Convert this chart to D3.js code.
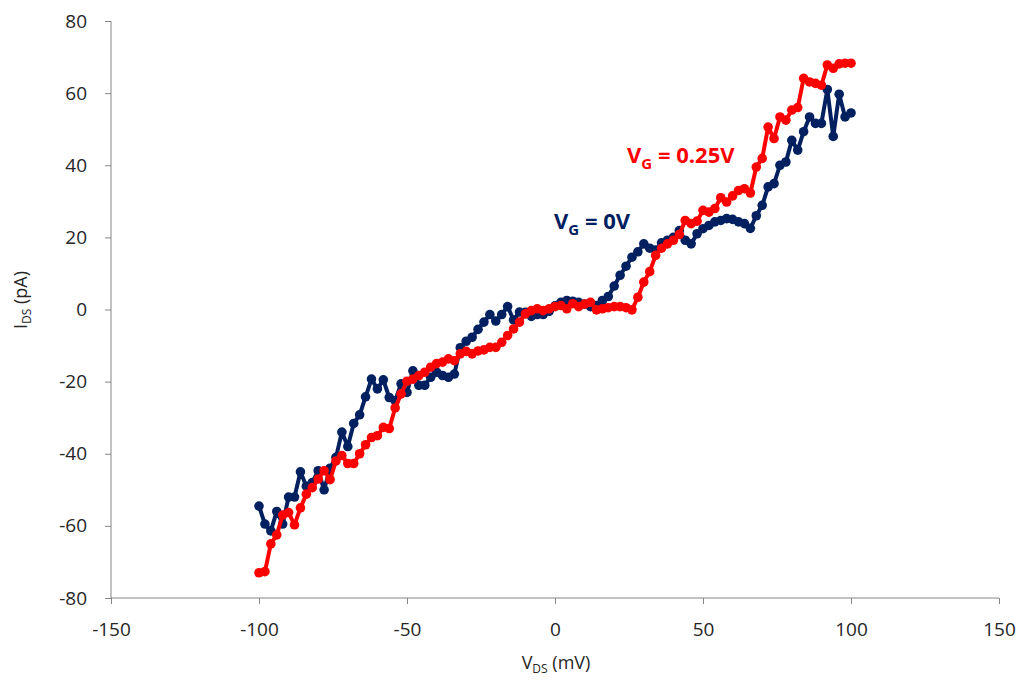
<!DOCTYPE html>
<html>
<head>
<meta charset="utf-8">
<script src="https://cdn.jsdelivr.net/npm/d3@7"></script>
<style>
  body { margin: 0; background: #fff; }
  text { font-family: "Open Sans", "DejaVu Sans", sans-serif; }
</style>
</head>
<body>
<svg width="1022" height="683"></svg>
<script>
// V_DS values (mV), 2 mV steps
const vds = d3.range(-100, 101, 2);

// I_DS (pA) for V_G = 0V
const blueI = [
  -54.5, -59.5, -61.4, -56, -59.5, -52, -52, -45, -49, -48,
  -44.7, -50, -44, -41, -34, -38, -31.6, -29.2, -24.2, -19.3,
  -22, -19.5, -24.4, -25.3, -20.6, -23, -17, -21, -21, -18.8,
  -17.4, -18.3, -18.8, -17.9, -10.6, -8.8, -7.7, -5.5, -3.5, -1.4,
  -3.2, -1.4, 0.8, -2.9, -0.7, -0.8, -1.9, -1.4, -1.4, -0.5,
  1, 2, 2.5, 2.3, 2, 1.5, 0.8, 1.1, 2.5, 3.6,
  6.5, 9.5, 12, 14.5, 16, 18.2, 17, 16.5, 18.5, 19.2,
  20, 21.9, 19.2, 18.2, 21, 22.4, 23.3, 24.3, 24.7, 25.2,
  25, 24.3, 23.8, 22.5, 26, 28.9, 34, 34.9, 40, 40.9,
  46.9, 44.2, 49.3, 53.4, 51.6, 51.6, 61, 48, 59.7, 53.4,
  54.5
];

// I_DS (pA) for V_G = 0.25V
const redI = [
  -73, -72.7, -65, -62.5, -57, -56.3, -59.7, -55, -51.2, -49.4,
  -47, -44.7, -47.2, -42, -40.5, -42.7, -42.7, -40, -37.5, -35.5,
  -35, -32.7, -33, -27.3, -23.4, -19.9, -19.3, -18.3, -17.4, -16,
  -15, -14.6, -13.7, -14.2, -12.3, -11.6, -12.3, -11.5, -11.2, -10.5,
  -10.5, -9.1, -7.2, -5.4, -3.5, -1.2, -0.3, 0.2, -0.3, 0.2,
  0.8, 1.1, 0.2, 1.6, 0.8, 1.5, 2, -0.1, 0.2, 0.5,
  0.8, 0.8, 0.5, -0.1, 3.4, 7.6, 10.5, 15, 17, 18.2,
  19.2, 20.8, 24.7, 23.8, 24.5, 27.5, 27, 28, 31, 29.8,
  31.5, 33, 33.5, 32.3, 39.5, 41.9, 50.6, 47.4, 53.4, 52.5,
  55.3, 56, 64.1, 63.1, 62.7, 62.2, 67.8, 66.9, 68.1, 68.3,
  68.3
];

const xTicks = [-150, -100, -50, 0, 50, 100, 150];
const yTicks = [-80, -60, -40, -20, 0, 20, 40, 60, 80];

const svg = d3.select("svg");
const mLeft = 111, mRight = 999, mTop = 21, mBottom = 598;

const x = d3.scaleLinear().domain([-150, 150]).range([mLeft, mRight]);
const y = d3.scaleLinear().domain([-80, 80]).range([mBottom, mTop]);

const axisColor = "#868686";
const labelColor = "#262626";
const plain = d => String(d); // keep ASCII hyphen like the original

// x axis along the bottom
const gx = svg.append("g")
  .attr("transform", `translate(0,${mBottom})`)
  .call(d3.axisBottom(x).tickValues(xTicks).tickFormat(plain).tickSize(6).tickPadding(19));
gx.select(".domain").attr("stroke", axisColor).attr("d", `M${mLeft},0H${mRight}`);
gx.selectAll(".tick line").attr("stroke", axisColor);
gx.selectAll(".tick text").attr("fill", labelColor).style("font-size", "19px");

// y axis
const gy = svg.append("g")
  .attr("transform", `translate(${mLeft},0)`)
  .call(d3.axisLeft(y).tickValues(yTicks).tickFormat(plain).tickSize(6).tickPadding(18));
gy.select(".domain").attr("stroke", axisColor).attr("d", `M0,${mTop}V${mBottom}`);
gy.selectAll(".tick line").attr("stroke", axisColor);
gy.selectAll(".tick text").attr("fill", labelColor).style("font-size", "19px");

// axis titles
const xt = svg.append("text")
  .attr("x", 556).attr("y", 669)
  .attr("text-anchor", "middle")
  .attr("fill", labelColor)
  .style("font-size", "18px");
xt.append("tspan").text("V");
xt.append("tspan").attr("dy", 4).style("font-size", "12px").text("DS");
xt.append("tspan").attr("dy", -4).text(" (mV)");

const yt = svg.append("text")
  .attr("transform", "translate(27,300) rotate(-90)")
  .attr("text-anchor", "middle")
  .attr("fill", labelColor)
  .style("font-size", "18px");
yt.append("tspan").text("I");
yt.append("tspan").attr("dy", 4).style("font-size", "12px").text("DS");
yt.append("tspan").attr("dy", -4).text(" (pA)");

const series = [
  { name: "0V", values: blueI, color: "#002060" },
  { name: "0.25V", values: redI, color: "#ff0000" }
];

const line = d3.line()
  .x((d, i) => x(vds[i]))
  .y(d => y(d));

series.forEach(s => {
  const g = svg.append("g");
  g.append("path")
    .datum(s.values)
    .attr("d", line)
    .attr("fill", "none")
    .attr("stroke", s.color)
    .attr("stroke-width", 4)
    .attr("stroke-linejoin", "round");
  g.selectAll("circle")
    .data(s.values)
    .join("circle")
    .attr("cx", (d, i) => x(vds[i]))
    .attr("cy", d => y(d))
    .attr("r", 4.8)
    .attr("fill", s.color);
});

// series labels
function seriesLabel(px, py, color, value) {
  const t = svg.append("text")
    .attr("x", px).attr("y", py)
    .attr("fill", color)
    .style("font-size", "22px")
    .style("font-weight", "bold");
  t.append("tspan").text("V");
  t.append("tspan").attr("dy", 6).style("font-size", "15px").text("G");
  t.append("tspan").attr("dy", -6).text(" = " + value);
}
seriesLabel(554, 229, "#002060", "0V");
seriesLabel(627, 163, "#ff0000", "0.25V");
</script>
</body>
</html>
